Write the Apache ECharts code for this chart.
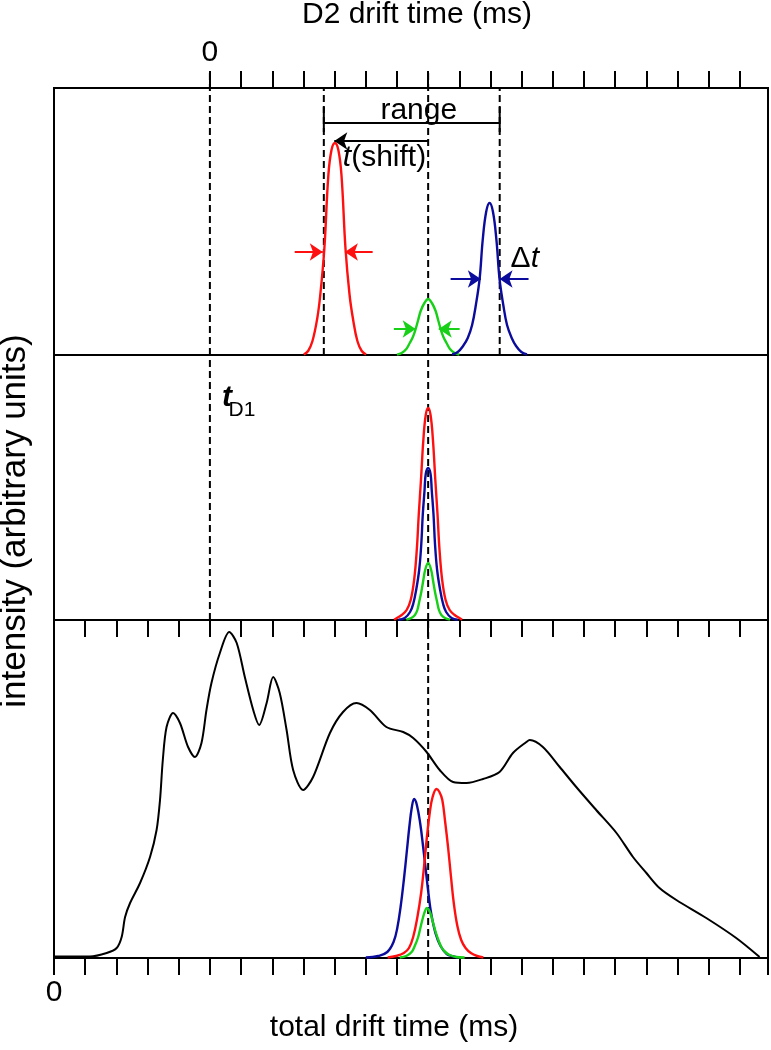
<!DOCTYPE html>
<html><head><meta charset="utf-8">
<script src="https://cdn.jsdelivr.net/npm/echarts@6/dist/echarts.min.js"></script>
<style>html,body{margin:0;padding:0;background:#fff}#c{width:771px;height:1050px}</style>
</head><body><div id="c"></div>
<script>
// ---------- axes (total drift time units, one tick = 1) ----------
const totalMin = 0;
const totalMax = 22.9;
const d2Zero = 5;                       // D2 drift time 0 on the total axis
const d2TickValues = [0,1,2,3,4,5,6,7,8,9,10,11,12,13,14,15,16,17];
const d2LabelValues = [0];
const totalLabelValues = [0];
const panelMax = [267, 265, 338];       // intensity range of top, middle, bottom panels

// ---------- reference times ----------
const tD1Time = 5;
const centerTime = 12;
const rangeStart = 8.654;
const rangeEnd = 14.295;

// ---------- top panel (D2 spectra) ----------
const topRed = [[8.01,0.5],[8.15,4],[8.29,14],[8.44,36],[8.54,60],[8.67,106],[8.80,180],[8.90,205],[9.01,212],[9.12,205],[9.22,180],[9.35,106],[9.48,60],[9.59,36],[9.73,14],[9.87,4],[10.01,0.5]];
const topGreen = [[11.0,0.3],[11.15,2],[11.30,6],[11.41,12],[11.51,18],[11.59,25],[11.68,35],[11.76,44],[11.88,52],[12.0,56],[12.12,52],[12.24,44],[12.32,35],[12.41,25],[12.49,18],[12.59,12],[12.70,6],[12.85,2],[13.0,0.3]];
const topBlue = [[12.77,0.5],[12.95,3],[13.12,9],[13.27,17],[13.41,30],[13.53,50],[13.65,76],[13.75,115],[13.86,143],[13.97,152],[14.08,143],[14.19,115],[14.29,76],[14.41,50],[14.53,30],[14.68,17],[14.82,9],[14.99,3],[15.17,0.5]];

// ---------- middle panel ----------
const midRed = [[10.91,0.3],[11.0,2],[11.15,5],[11.31,10],[11.44,20],[11.55,40],[11.635,70],[11.70,106],[11.77,140],[11.846,180],[11.923,205],[12.0,212],[12.077,205],[12.154,180],[12.23,140],[12.30,106],[12.365,70],[12.45,40],[12.56,20],[12.69,10],[12.85,5],[13.0,2],[13.09,0.3]];
const midBlue = [[11.05,0.3],[11.25,2],[11.42,8],[11.52,16],[11.615,30],[11.712,50],[11.78,76],[11.827,105],[11.885,130],[11.923,146],[12.0,152],[12.077,146],[12.115,130],[12.173,105],[12.22,76],[12.288,50],[12.385,30],[12.48,16],[12.577,8],[12.75,2],[12.95,0.3]];
const midGreen = [[11.30,0.3],[11.46,2],[11.576,5],[11.654,10],[11.712,18],[11.78,28],[11.846,40],[11.904,50],[12.0,57],[12.096,50],[12.154,40],[12.22,28],[12.288,18],[12.346,10],[12.424,5],[12.54,2],[12.70,0.3]];

// ---------- bottom panel ----------
const bottomBlack = [[0,1.5],[1.15,1.5],[1.69,5],[2.01,10],[2.17,21],[2.28,41],[2.44,55],[2.76,75],[3.08,101],[3.29,128],[3.40,158],[3.49,198],[3.61,231],[3.82,245],[4.04,235],[4.30,211],[4.52,201],[4.73,215],[4.89,248],[5.05,275],[5.32,305],[5.62,326],[5.86,315],[6.12,281],[6.39,248],[6.58,233],[6.82,255],[7.03,281],[7.24,265],[7.46,228],[7.67,188],[7.99,168],[8.31,181],[8.85,225],[9.27,246],[9.70,255],[10.13,248],[10.66,231],[11.20,226],[11.52,220],[11.95,206],[12.37,188],[12.80,176],[13.23,175],[13.76,179],[14.29,186],[14.72,205],[15.15,216],[15.26,218],[15.68,211],[16.22,191],[16.75,171],[17.39,148],[18.04,125],[18.57,101],[19.00,85],[19.42,70],[19.96,58],[20.92,40],[21.88,20],[22.63,1]];
const bottomBlue = [[10.0,0.5],[10.40,2],[10.69,6],[10.89,16],[11.01,30],[11.12,52],[11.22,78],[11.32,108],[11.396,131],[11.473,150],[11.55,159],[11.638,153],[11.748,134],[11.836,112],[11.924,88],[12.012,64],[12.10,44],[12.243,24],[12.397,12],[12.595,4],[12.815,1.5],[12.95,0.5]];
const bottomRed = [[10.70,0.5],[10.97,2],[11.22,5],[11.385,10],[11.52,21],[11.65,40],[11.775,65],[11.87,92],[11.96,121],[12.05,145],[12.143,161],[12.27,169],[12.362,166],[12.454,158],[12.546,136],[12.638,111],[12.73,82],[12.822,55],[12.937,32],[13.06,18],[13.2,10],[13.37,5],[13.57,2],[13.77,0.5]];
const bottomGreen = [[11.09,0.5],[11.30,2],[11.47,6],[11.57,12],[11.67,20],[11.75,30],[11.83,40],[11.90,47],[11.96,50],[12.02,48],[12.08,44],[12.16,35],[12.24,26],[12.34,17],[12.44,10],[12.55,6],[12.69,3],[12.90,1],[13.17,0.5]];

// ---------- annotations (top panel, data units) ----------
const rangeLevel = 232;
const rangeCap = [223, 248];
const shiftArrow = [[centerTime, 214], [8.99, 214]];
const redFwhmLevel = 103,  redFwhm  = [[7.72, 8.62], [10.22, 9.33]];
const greenFwhmLevel = 26, greenFwhm = [[10.90, 11.60], [13.01, 12.34]];
const blueFwhmLevel = 76,  blueFwhm  = [[12.72, 13.69], [15.22, 14.29]];

// ---------- texts ----------
const topTitle = 'D2 drift time (ms)';
const bottomTitle = 'total drift time (ms)';
const yTitle = 'intensity (arbitrary units)';
const rangeText = 'range';
const shiftText = '{i|t}(shift)';
const deltaText = 'Δ{i|t}';
const tD1Main = 't', tD1Sub = 'D1';
const rangeTextPos = [11.7, 244], shiftTextPos = [10.6, 197], deltaTextPos = [15.1, 96];
const tD1Pos = [5.55, 222], tD1SubPos = [6.03, 210];

const FONT = 'Liberation Sans, Arial, Helvetica, sans-serif';
const RED = '#ff1010', GREEN = '#18d018', BLUE = '#0c0c9c', BLACK = '#000';

const chart = echarts.init(document.getElementById('c'), null, {renderer: 'canvas'});

function grid(top, height) {
  return {left: 54, right: 3, top: top, height: height, show: true, borderColor: BLACK, borderWidth: 2, backgroundColor: 'transparent'};
}
const tickStyle = {color: BLACK, width: 2};
function curve(data, color, xi, yi, w, sm) {
  return {type: 'line', data: data, xAxisIndex: xi, yAxisIndex: yi, smooth: sm || 0.4, symbol: 'none', showSymbol: false,
    lineStyle: {color: color, width: w || 2.4}, silent: true, animation: false, z: 3};
}
function vline(t, v0, v1, xi, yi) {
  return {type: 'line', data: [[t, v0], [t, v1]], xAxisIndex: xi, yAxisIndex: yi, symbol: 'none', clip: false,
    lineStyle: {color: BLACK, width: 2, type: [7, 4]}, silent: true, animation: false, z: 2};
}
function solid(data, xi, yi) {
  return {type: 'line', data: data, xAxisIndex: xi, yAxisIndex: yi, symbol: 'none', clip: false,
    lineStyle: {color: BLACK, width: 2}, silent: true, animation: false, z: 4};
}
function arrowPairs(pairs, level, color) {
  return pairs.map(p => [{coord: [p[0], level], lineStyle: {color: color}}, {coord: [p[1], level]}]);
}

const tickOvershoot = 17; // dashed lines reach through the outer ticks of the top axis

const option = {
  animation: false,
  backgroundColor: '#fff',
  grid: [grid(88, 267), grid(355, 265), grid(620, 338)],
  xAxis: [
    {gridIndex: 0, type: 'value', min: totalMin, max: totalMax, show: false},
    {gridIndex: 0, type: 'value', position: 'top', min: totalMin - d2Zero, max: totalMax - d2Zero, interval: 1,
      axisLine: {show: false}, splitLine: {show: false},
      axisTick: {show: true, inside: false, length: 17, lineStyle: tickStyle, customValues: d2TickValues},
      axisLabel: {show: true, customValues: d2LabelValues, fontSize: 30, fontFamily: FONT, color: BLACK, margin: 20}},
    {gridIndex: 1, type: 'value', position: 'top', min: totalMin, max: totalMax, interval: 1,
      axisLine: {show: false}, splitLine: {show: false}, axisLabel: {show: false},
      axisTick: {show: true, inside: true, length: 17, lineStyle: tickStyle}},
    {gridIndex: 2, type: 'value', position: 'top', min: totalMin, max: totalMax, interval: 1,
      axisLine: {show: false}, splitLine: {show: false}, axisLabel: {show: false},
      axisTick: {show: true, inside: true, length: 17, lineStyle: tickStyle}},
    {gridIndex: 2, type: 'value', position: 'bottom', min: totalMin, max: totalMax, interval: 1,
      axisLine: {show: false}, splitLine: {show: false},
      axisTick: {show: true, inside: false, length: 17, lineStyle: tickStyle},
      axisLabel: {show: true, customValues: totalLabelValues, fontSize: 30, fontFamily: FONT, color: BLACK, margin: 20}}
  ],
  yAxis: [
    {gridIndex: 0, type: 'value', min: 0, max: panelMax[0], show: false},
    {gridIndex: 1, type: 'value', min: 0, max: panelMax[1], show: false},
    {gridIndex: 2, type: 'value', min: 0, max: panelMax[2], show: false}
  ],
  series: [
    // dashed reference lines
    vline(tD1Time, 0, panelMax[0] + tickOvershoot, 0, 0),
    vline(centerTime, 0, panelMax[0] + tickOvershoot, 0, 0),
    vline(rangeStart, 0, panelMax[0], 0, 0),
    vline(rangeEnd, 0, panelMax[0], 0, 0),
    vline(tD1Time, 0, panelMax[1], 2, 1),
    vline(centerTime, 0, panelMax[1], 2, 1),
    vline(centerTime, 0, panelMax[2], 4, 2),
    // top panel peaks
    curve(topRed, RED, 0, 0),
    curve(topGreen, GREEN, 0, 0),
    curve(topBlue, BLUE, 0, 0),
    // middle panel peaks
    curve(midBlue, BLUE, 2, 1),
    curve(midRed, RED, 2, 1),
    curve(midGreen, GREEN, 2, 1),
    // bottom panel
    curve(bottomBlack, BLACK, 4, 2, 2, 0.3),
    curve(bottomBlue, BLUE, 4, 2),
    curve(bottomRed, RED, 4, 2),
    curve(bottomGreen, GREEN, 4, 2),
    // range bar + caps + arrows
    Object.assign(solid([[rangeStart, rangeLevel], [rangeEnd, rangeLevel]], 0, 0), {
      markLine: {silent: true, animation: false, symbol: ['none', 'arrow'], symbolSize: 13,
        label: {show: false}, emphasis: {disabled: true},
        lineStyle: {width: 2, type: 'solid', color: BLACK},
        data: [].concat(
          arrowPairs([[shiftArrow[0][0], shiftArrow[1][0]]], shiftArrow[0][1], BLACK),
          arrowPairs(redFwhm, redFwhmLevel, RED),
          arrowPairs(greenFwhm, greenFwhmLevel, GREEN),
          arrowPairs(blueFwhm, blueFwhmLevel, BLUE))
      }}),
    solid([[rangeStart, rangeCap[0]], [rangeStart, rangeCap[1]]], 0, 0),
    solid([[rangeEnd, rangeCap[0]], [rangeEnd, rangeCap[1]]], 0, 0)
  ]
};
chart.setOption(option);

function px(gridIndex, pt) { return chart.convertToPixel({gridIndex: gridIndex}, pt); }
function txt(p, text, extra) {
  return {type: 'text', x: p[0], y: p[1], silent: true, z: 10,
    style: Object.assign({text: text, fill: BLACK, fontSize: 30, fontFamily: FONT, align: 'center', verticalAlign: 'middle'}, extra || {})};
}
const rich = {i: {fontStyle: 'italic', fontSize: 30, fontFamily: FONT}};
const graphics = [
  txt([417, 15], topTitle),
  txt([394, 1028], bottomTitle),
  Object.assign(txt([15, 521], yTitle, {fontSize: 35}), {rotation: Math.PI / 2}),
  txt(px(0, rangeTextPos), rangeText),
  txt(px(0, shiftTextPos), shiftText, {rich: rich}),
  txt(px(0, deltaTextPos), deltaText, {rich: rich}),
  txt(px(1, tD1Pos), tD1Main, {fontStyle: 'italic', fontWeight: 'bold'}),
  txt(px(1, tD1SubPos), tD1Sub, {fontSize: 21})
];
chart.setOption({graphic: graphics});
</script></body></html>
